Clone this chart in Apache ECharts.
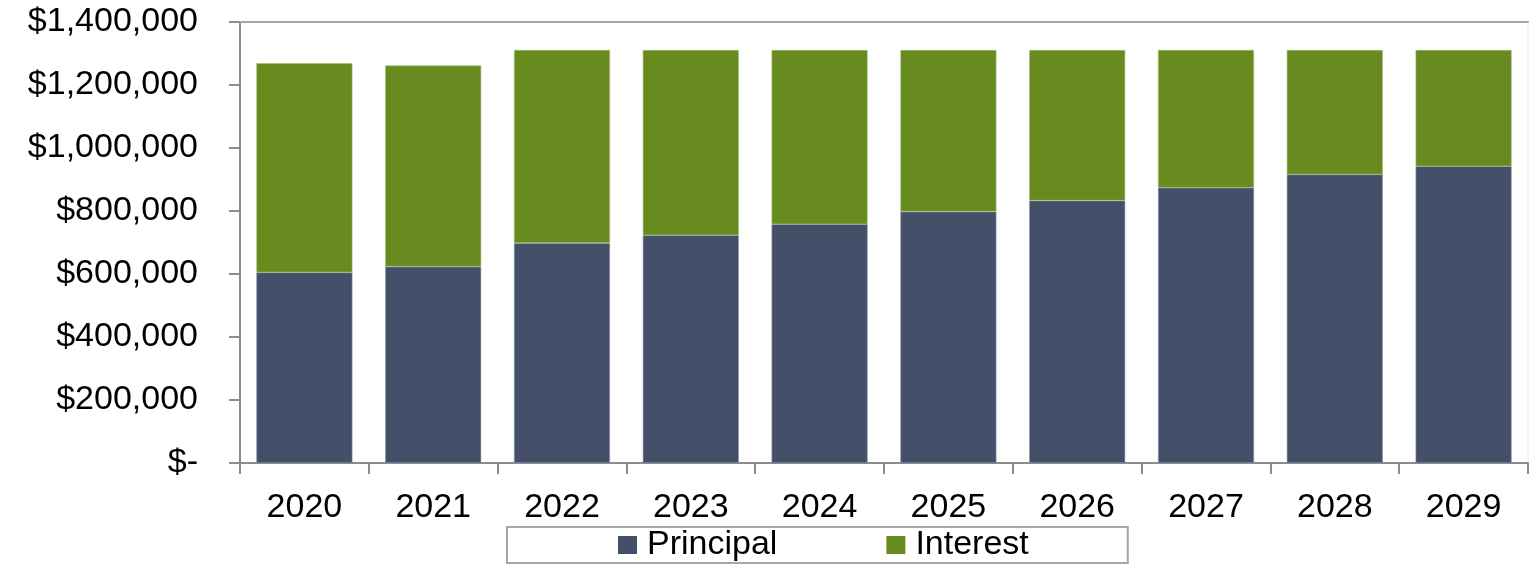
<!DOCTYPE html>
<html>
<head>
<meta charset="utf-8">
<script src="https://cdn.jsdelivr.net/npm/echarts@6/dist/echarts.min.js"></script>
<style>
  html, body { margin: 0; padding: 0; background: #fff; }
  #chart { width: 1536px; height: 570px; }
</style>
</head>
<body>
<div id="chart"></div>
<script>
const years = ['2020', '2021', '2022', '2023', '2024', '2025', '2026', '2027', '2028', '2029'];
const principal = [605000, 623000, 698000, 723000, 758000, 798000, 833000, 874000, 916000, 942000];
const interest = [664000, 639000, 613000, 588000, 553000, 513000, 478000, 437000, 395000, 369000];
const seriesNames = ['Principal', 'Interest'];
const yMin = 0, yMax = 1400000, yStep = 200000;

const FONT = '"Liberation Sans", Arial, sans-serif';
const AXIS_COLOR = '#8c8c8c';

function money(v) {
  if (v === 0) return '$-';
  return '$' + v.toLocaleString('en-US');
}

const chart = echarts.init(document.getElementById('chart'), null, { renderer: 'canvas' });
chart.setOption({
  animation: false,
  backgroundColor: '#ffffff',
  textStyle: { fontFamily: FONT },
  grid: {
    left: 240, right: 8, top: 22, bottom: 107,
    show: true, borderColor: '#ececec', borderWidth: 1
  },
  legend: {
    data: seriesNames,
    left: 507,
    top: 527,
    orient: 'horizontal',
    padding: [1, 99, 1, 111],
    borderColor: '#a6a6a6',
    borderWidth: 2,
    itemWidth: 19,
    itemHeight: 18,
    itemGap: 109,
    icon: 'rect',
    itemStyle: { borderWidth: 0 },
    textStyle: { fontFamily: FONT, fontSize: 34, color: '#000', padding: [0, 0, 0, 5], lineHeight: 34 }
  },
  xAxis: [{
    type: 'category',
    data: years,
    boundaryGap: true,
    axisLine: { show: true, lineStyle: { color: AXIS_COLOR, width: 2 } },
    axisTick: { show: true, length: 11, lineStyle: { color: AXIS_COLOR, width: 2 } },
    axisLabel: { margin: 28, fontSize: 34, color: '#000', fontFamily: FONT },
    splitLine: { show: false }
  }, {
    type: 'category',
    data: years,
    position: 'top',
    axisLine: { show: true, lineStyle: { color: '#a6a6a6', width: 2 } },
    axisTick: { show: false },
    axisLabel: { show: false }
  }],
  yAxis: {
    type: 'value',
    min: yMin, max: yMax, interval: yStep,
    axisLine: { show: true, lineStyle: { color: AXIS_COLOR, width: 2 } },
    axisTick: { show: true, length: 11, lineStyle: { color: AXIS_COLOR, width: 2 } },
    axisLabel: { margin: 42, fontSize: 34, color: '#000', fontFamily: FONT, formatter: money },
    splitLine: { show: false }
  },
  series: [{
    name: seriesNames[0],
    type: 'bar',
    stack: 'total',
    data: principal,
    barWidth: 96,
    itemStyle: { color: '#444F69', borderColor: '#8a93a6', borderWidth: 0.6 }
  }, {
    name: seriesNames[1],
    type: 'bar',
    stack: 'total',
    data: interest,
    barWidth: 96,
    itemStyle: { color: '#678B1E', borderColor: '#a3bd7a', borderWidth: 0.6 }
  }]
});
</script>
</body>
</html>
